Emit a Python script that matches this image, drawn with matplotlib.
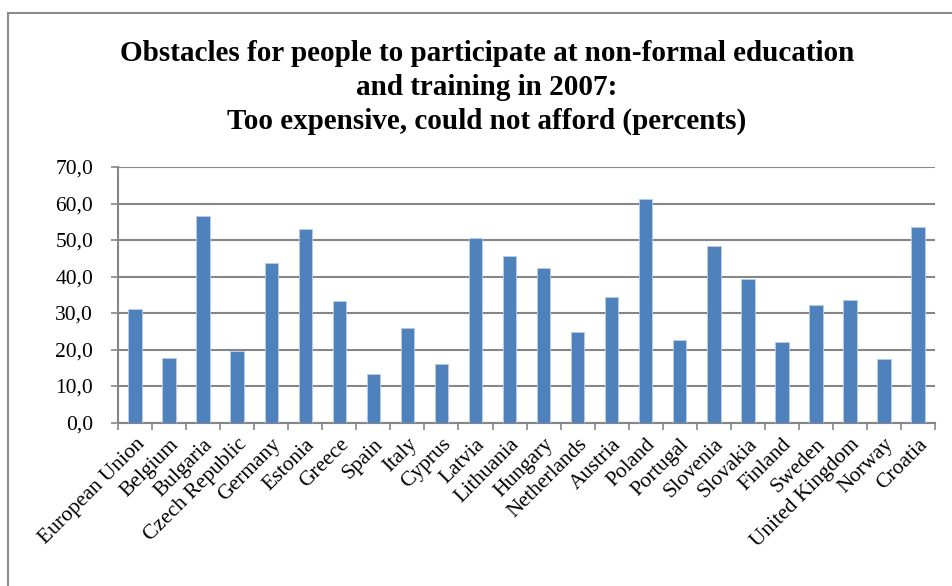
import numpy as np
import matplotlib.pyplot as plt
from matplotlib.lines import Line2D

countries = ['European Union', 'Belgium', 'Bulgaria', 'Czech Republic', 'Germany',
             'Estonia', 'Greece', 'Spain', 'Italy', 'Cyprus', 'Latvia', 'Lithuania',
             'Hungary', 'Netherlands', 'Austria', 'Poland', 'Portugal', 'Slovenia',
             'Slovakia', 'Finland', 'Sweden', 'United Kingdom', 'Norway', 'Croatia']
values = [31.0, 17.7, 56.6, 19.5, 43.6, 53.0, 33.2, 13.3, 26.0, 16.0, 50.6, 45.5,
          42.2, 24.9, 34.5, 61.2, 22.5, 48.3, 39.2, 22.0, 32.3, 33.7, 17.3, 53.7]
yticks = np.arange(0, 71, 10)

plt.rcParams['font.family'] = ['Liberation Serif', 'DejaVu Serif']

fig = plt.figure(figsize=(9.53, 5.86), dpi=100)
ax = fig.add_axes([0.124, 0.279, 0.857, 0.436])

x = np.arange(len(countries))
ax.bar(x, values, width=0.4, color='#4F81BD', edgecolor='#B9CDE5', linewidth=0.6, zorder=3)

ax.set_xlim(-0.5, len(countries) - 0.5)
ax.set_ylim(0, 70)
ax.set_yticks(yticks)
ax.set_yticklabels([f'{v:.1f}'.replace('.', ',') for v in yticks], fontsize=15.5)
ax.yaxis.grid(True, color='#868686', linewidth=1.5, zorder=0)

# category boundary ticks, labels centred on bars
ax.set_xticks(np.arange(-0.5, len(countries), 1.0))
ax.set_xticklabels([])
ax.set_xticks(x, minor=True)
ax.set_xticklabels(countries, minor=True, rotation=45, ha='right',
                   rotation_mode='anchor', fontsize=15.5)
ax.tick_params(axis='x', which='minor', length=0, pad=9)
ax.tick_params(axis='x', which='major', length=5, width=1.2, color='#868686')
ax.tick_params(axis='y', length=5, width=1.2, color='#868686', pad=13)

for s in ['top', 'right']:
    ax.spines[s].set_visible(False)
for s in ['left', 'bottom']:
    ax.spines[s].set_color('#868686')
    ax.spines[s].set_linewidth(1.5)

fig.text(0.511, 0.932, 'Obstacles for people to participate at non-formal education\n'
         'and training in 2007:\nToo expensive, could not afford (percents)',
         ha='center', va='top', fontsize=21, fontweight='bold', linespacing=1.33)

# chart border
fig.add_artist(Line2D([0.0085, 0.0085], [0, 0.978], color='#8C8C8C', linewidth=1.5))
fig.add_artist(Line2D([0.0085, 1.0], [0.978, 0.978], color='#8C8C8C', linewidth=1.5))

fig.savefig('out.png', dpi=100)
